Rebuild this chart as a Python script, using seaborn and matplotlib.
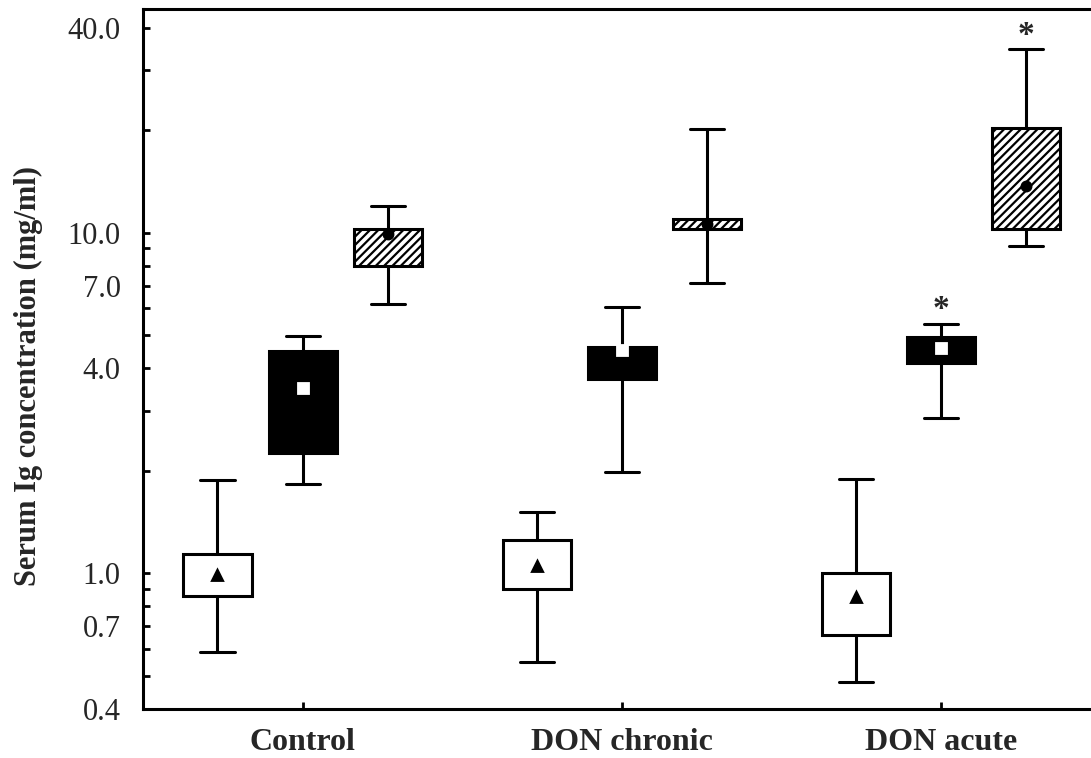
import matplotlib
matplotlib.use("Agg")
import matplotlib.pyplot as plt
from matplotlib.ticker import FixedLocator, NullFormatter
import numpy as np
import pandas as pd
import seaborn as sns

# Treatment groups and immunoglobulin classes
groups = ["Control", "DON chronic", "DON acute"]
isotypes = ["IgA", "IgM", "IgG"]

# Five-number summaries (mg/ml): lower whisker, lower quartile, centre, upper quartile, upper whisker
iga = [[0.59, 0.86, 0.99, 1.14, 1.88],
       [0.55, 0.90, 1.05, 1.25, 1.51],
       [0.48, 0.66, 0.85, 1.00, 1.89]]
igm = [[1.83, 2.26, 3.50, 4.51, 4.99],
       [1.99, 3.72, 4.52, 4.61, 6.07],
       [2.86, 4.14, 4.59, 4.95, 5.41]]
igg = [[6.16, 7.99, 9.91, 10.23, 11.98],
       [7.10, 10.25, 10.63, 11.00, 20.16],
       [9.16, 10.27, 13.71, 20.33, 34.60]]

# Boxes flagged as significantly different from control
significant = [("DON acute", "IgM"), ("DON acute", "IgG")]

y_major = [0.4, 0.7, 1.0, 4.0, 7.0, 10.0, 40.0]
y_minor = [0.5, 0.6, 0.8, 0.9, 2, 3, 5, 6, 8, 9, 20, 30]

rows = []
for iso, summary in zip(isotypes, [iga, igm, igg]):
    for g, vals in zip(groups, summary):
        for v in vals:
            rows.append({"group": g, "isotype": iso, "conc": v})
df = pd.DataFrame(rows)

sns.set_style("ticks")
plt.rcParams["font.family"] = ["Liberation Serif", "DejaVu Serif"]
plt.rcParams["hatch.linewidth"] = 1.6
plt.rcParams["hatch.color"] = "black"

fig = plt.figure(figsize=(10.91, 7.58), dpi=100)
ax = fig.add_axes([143 / 1091, 1 - 709 / 758, 1 - 143 / 1091, 700 / 758])
ax.set_yscale("log")

box_fill = {"IgA": "white", "IgM": "black", "IgG": "white"}
sns.boxplot(data=df, x="group", y="conc", hue="isotype", order=groups,
            hue_order=isotypes, palette=box_fill, whis=(0, 100), width=0.8,
            gap=0.2, linecolor="black", linewidth=2.2, showfliers=False,
            medianprops=dict(linewidth=0), legend=False, ax=ax)

# Hatch the IgG boxes (right-hand box of each group)
for patch in ax.patches:
    xs = patch.get_path().vertices[:, 0]
    centre = (xs.min() + xs.max()) / 2
    if centre - np.round(centre) > 0.1:
        patch.set_hatch("////")

marker_color = {"IgA": "black", "IgM": "white", "IgG": "black"}
sns.pointplot(data=df, x="group", y="conc", hue="isotype", order=groups,
              hue_order=isotypes, estimator="median", errorbar=None,
              dodge=0.8 * 2 / 3, markers=["^", "s", "o"], linestyles="none",
              palette=marker_color, markersize=6.5, legend=False, ax=ax)

slot = 0.8 / len(isotypes)
for g, iso in significant:
    summary = {"IgA": iga, "IgM": igm, "IgG": igg}[iso]
    top = summary[groups.index(g)][-1]
    xpos = groups.index(g) + (isotypes.index(iso) - 1) * slot
    ax.annotate("*", (xpos, top), xytext=(0, 10), textcoords="offset points",
                ha="center", va="center", fontsize=24, fontweight="bold")

ax.set_ylim(0.4, 45.4)
ax.set_xlim(-0.5, 2.47)
ax.set_yticks(y_major)
ax.set_yticklabels([f"{v:.1f}" for v in y_major])
ax.yaxis.set_minor_locator(FixedLocator(y_minor))
ax.yaxis.set_minor_formatter(NullFormatter())

ax.tick_params(axis="both", which="both", direction="in", length=5,
               width=2, color="black")
ax.tick_params(axis="y", which="major", labelsize=22, pad=16)
ax.tick_params(axis="x", which="major", labelsize=23, pad=14)
for lab in ax.get_xticklabels():
    lab.set_fontweight("bold")

ax.set_xlabel("")
ax.set_ylabel("Serum Ig concentration (mg/ml)", fontsize=22,
              fontweight="bold", labelpad=18)
ax.yaxis.label.set_y(0.475)

for side in ["left", "bottom", "top"]:
    ax.spines[side].set_linewidth(2.2)
    ax.spines[side].set_color("black")
ax.spines["right"].set_visible(False)

fig.savefig("out.png", dpi=100, facecolor="white")
